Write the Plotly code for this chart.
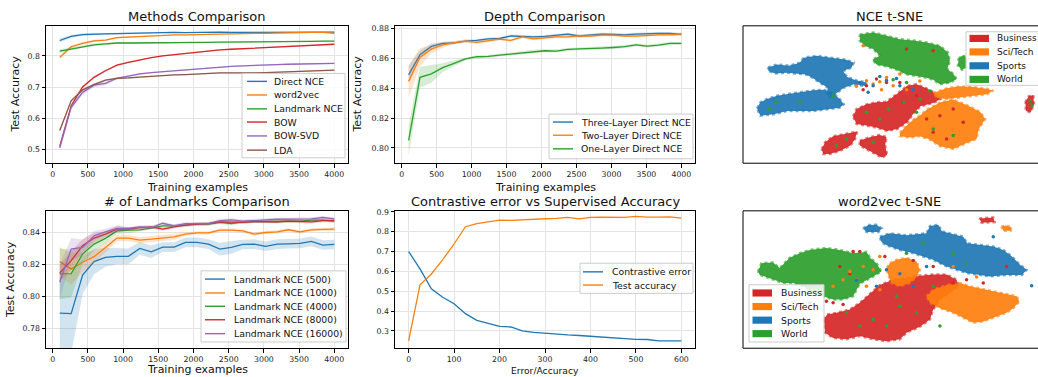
import plotly.graph_objects as go

W, H = 1038, 377
FONT = "DejaVu Sans"
C_BLUE, C_ORANGE, C_GREEN, C_RED, C_PURPLE, C_BROWN = "#1f77b4", "#ff7f0e", "#2ca02c", "#d62728", "#9467bd", "#8c564b"

# ---------------- data ----------------
train_x = [100, 262.5, 425, 587.5, 750, 912.5, 1075, 1237.5, 1400, 1562.5, 1725, 1887.5, 2050,
           2212.5, 2375, 2537.5, 2700, 2862.5, 3025, 3187.5, 3350, 3512.5, 3675, 3837.5, 4000]

# Methods Comparison
m_direct = [0.849, 0.862, 0.868, 0.870, 0.870, 0.871, 0.872, 0.873, 0.873, 0.875, 0.875, 0.874, 0.875,
            0.875, 0.876, 0.875, 0.875, 0.876, 0.876, 0.876, 0.876, 0.876, 0.876, 0.876, 0.876]
m_word2vec = [0.795, 0.829, 0.840, 0.848, 0.850, 0.858, 0.860, 0.862, 0.864, 0.865, 0.867, 0.867, 0.868,
              0.869, 0.871, 0.871, 0.871, 0.872, 0.872, 0.872, 0.873, 0.874, 0.875, 0.875, 0.872]
m_landmark = [0.815, 0.822, 0.830, 0.835, 0.838, 0.841, 0.841, 0.841, 0.842, 0.842, 0.842, 0.843, 0.843,
              0.843, 0.844, 0.844, 0.845, 0.845, 0.845, 0.845, 0.846, 0.846, 0.846, 0.847, 0.847]
m_bow = [0.510, 0.640, 0.700, 0.731, 0.752, 0.770, 0.779, 0.787, 0.794, 0.800, 0.804, 0.808, 0.812,
         0.816, 0.819, 0.821, 0.823, 0.825, 0.827, 0.829, 0.831, 0.832, 0.834, 0.835, 0.837]
m_bowsvd = [0.505, 0.635, 0.683, 0.706, 0.712, 0.728, 0.735, 0.742, 0.746, 0.749, 0.752, 0.756, 0.759,
            0.762, 0.765, 0.766, 0.768, 0.770, 0.771, 0.772, 0.773, 0.774, 0.774, 0.775, 0.776]
m_lda = [0.561, 0.656, 0.691, 0.708, 0.722, 0.728, 0.729, 0.732, 0.735, 0.736, 0.739, 0.740, 0.742,
         0.744, 0.745, 0.745, 0.744, 0.745, 0.746, 0.747, 0.748, 0.749, 0.750, 0.751, 0.754]
m_spread = [0.006, 0.005, 0.004, 0.004, 0.003, 0.003, 0.003, 0.002, 0.002, 0.002, 0.002, 0.002, 0.002,
            0.002, 0.002, 0.002, 0.002, 0.002, 0.002, 0.002, 0.002, 0.002, 0.002, 0.002, 0.002]
m_svd_spread = [0.012, 0.008, 0.008, 0.007, 0.006, 0.004, 0.003, 0.003, 0.002, 0.002, 0.002, 0.002, 0.002,
                0.002, 0.002, 0.002, 0.002, 0.002, 0.002, 0.002, 0.002, 0.002, 0.002, 0.002, 0.002]

# Depth Comparison
d_three = [0.8490, 0.8624, 0.8680, 0.8700, 0.8704, 0.8716, 0.8720, 0.8730, 0.8733, 0.8750, 0.8747, 0.8744, 0.8747,
           0.8753, 0.8762, 0.8750, 0.8756, 0.8762, 0.8760, 0.8758, 0.8762, 0.8767, 0.8767, 0.8767, 0.8760]
d_two = [0.8447, 0.8607, 0.8662, 0.8691, 0.8704, 0.8716, 0.8707, 0.8720, 0.8729, 0.8720, 0.8744, 0.8731, 0.8738,
         0.8744, 0.8744, 0.8750, 0.8750, 0.8756, 0.8756, 0.8750, 0.8749, 0.8756, 0.8758, 0.8758, 0.8762]
d_one = [0.8051, 0.8473, 0.8496, 0.8538, 0.8567, 0.8596, 0.8611, 0.8613, 0.8622, 0.8629, 0.8636, 0.8647, 0.8651,
         0.8649, 0.8660, 0.8664, 0.8669, 0.8669, 0.8673, 0.8678, 0.8691, 0.8682, 0.8689, 0.8700, 0.8700]
d_three_spread = [0.006, 0.003, 0.002, 0.001, 0.001, 0.001, 0.001, 0.001, 0.001, 0.001, 0.001, 0.001, 0.001,
                  0.001, 0.001, 0.001, 0.001, 0.001, 0.001, 0.001, 0.001, 0.001, 0.001, 0.001, 0.001]
d_two_spread = [0.011, 0.006, 0.003, 0.002, 0.001, 0.001, 0.001, 0.001, 0.001, 0.001, 0.001, 0.001, 0.001,
                0.001, 0.001, 0.001, 0.001, 0.001, 0.001, 0.001, 0.001, 0.001, 0.001, 0.001, 0.001]
d_one_spread = [0.010, 0.007, 0.006, 0.003, 0.002, 0.001, 0.001, 0.001, 0.001, 0.001, 0.001, 0.001, 0.001,
                0.001, 0.001, 0.001, 0.001, 0.001, 0.001, 0.001, 0.001, 0.001, 0.001, 0.001, 0.001]

# # of Landmarks Comparison
l_500 = [0.7894, 0.7890, 0.8133, 0.8217, 0.8244, 0.8250, 0.8250, 0.8300, 0.8279, 0.8308, 0.8308, 0.8338, 0.8338,
         0.8327, 0.8296, 0.8306, 0.8325, 0.8327, 0.8313, 0.8327, 0.8329, 0.8331, 0.8344, 0.8321, 0.8325]
l_1000 = [0.8217, 0.8171, 0.8213, 0.8248, 0.8306, 0.8365, 0.8365, 0.8352, 0.8358, 0.8365, 0.8373, 0.8390, 0.8398,
          0.8398, 0.8415, 0.8415, 0.8410, 0.8390, 0.8400, 0.8404, 0.8417, 0.8404, 0.8417, 0.8419, 0.8421]
l_4000 = [0.8140, 0.8142, 0.8265, 0.8327, 0.8363, 0.8410, 0.8415, 0.8417, 0.8427, 0.8442, 0.8442, 0.8448, 0.8452,
          0.8452, 0.8463, 0.8456, 0.8467, 0.8469, 0.8467, 0.8469, 0.8471, 0.8471, 0.8477, 0.8477, 0.8471]
l_8000 = [0.8146, 0.8223, 0.8317, 0.8365, 0.8390, 0.8421, 0.8421, 0.8431, 0.8435, 0.8421, 0.8435, 0.8446, 0.8452,
          0.8456, 0.8467, 0.8467, 0.8463, 0.8469, 0.8467, 0.8467, 0.8471, 0.8467, 0.8467, 0.8475, 0.8475]
l_16000 = [0.8088, 0.8296, 0.8306, 0.8379, 0.8404, 0.8425, 0.8425, 0.8435, 0.8431, 0.8458, 0.8442, 0.8456, 0.8456,
           0.8456, 0.8475, 0.8479, 0.8471, 0.8477, 0.8479, 0.8483, 0.8485, 0.8485, 0.8485, 0.8494, 0.8485]
l_500_spread = [0.023, 0.025, 0.012, 0.008, 0.006, 0.005, 0.005, 0.004, 0.004, 0.003, 0.003, 0.003, 0.003,
                0.003, 0.004, 0.004, 0.003, 0.003, 0.003, 0.003, 0.003, 0.003, 0.003, 0.003, 0.003]
l_1000_spread = [0.009, 0.010, 0.006, 0.004, 0.003, 0.002, 0.002, 0.002, 0.002, 0.002, 0.002, 0.001, 0.001,
                 0.001, 0.001, 0.001, 0.001, 0.001, 0.001, 0.001, 0.001, 0.001, 0.001, 0.001, 0.001]
l_4000_spread = [0.016, 0.015, 0.006, 0.004, 0.003, 0.002, 0.002, 0.001, 0.001, 0.001, 0.001, 0.001, 0.001,
                 0.001, 0.001, 0.001, 0.001, 0.001, 0.001, 0.001, 0.001, 0.001, 0.001, 0.001, 0.001]
l_8000_spread = [0.005, 0.006, 0.004, 0.003, 0.002, 0.002, 0.001, 0.001, 0.001, 0.001, 0.001, 0.001, 0.001,
                 0.001, 0.001, 0.001, 0.001, 0.001, 0.001, 0.001, 0.001, 0.001, 0.001, 0.001, 0.001]
l_16000_spread = [0.011, 0.007, 0.005, 0.003, 0.002, 0.002, 0.001, 0.001, 0.001, 0.001, 0.001, 0.001, 0.001,
                  0.001, 0.001, 0.001, 0.001, 0.001, 0.001, 0.001, 0.001, 0.001, 0.001, 0.001, 0.001]

# Contrastive error vs Supervised Accuracy
c_x = [0, 25, 50, 75, 100, 125, 150, 175, 200, 225, 250, 275, 300, 325, 350, 375, 400, 425, 450, 475,
       500, 525, 550, 575, 600]
c_error = [0.700, 0.613, 0.512, 0.470, 0.437, 0.387, 0.353, 0.337, 0.323, 0.320, 0.300, 0.293, 0.288, 0.283,
           0.280, 0.277, 0.273, 0.268, 0.265, 0.262, 0.258, 0.257, 0.250, 0.250, 0.250]
c_acc = [0.250, 0.532, 0.587, 0.659, 0.738, 0.825, 0.841, 0.850, 0.858, 0.857, 0.860, 0.865, 0.865, 0.867,
         0.872, 0.865, 0.872, 0.873, 0.873, 0.872, 0.877, 0.873, 0.873, 0.875, 0.868]

# t-SNE classes
classes = ["Business", "Sci/Tech", "Sports", "World"]
class_colors = [C_RED, C_ORANGE, C_BLUE, C_GREEN]

# NCE t-SNE: cluster outlines and stray points (embedding coords, y downward)
nce_blobs = {
    "World": [
        [(480, 96), (520, 90), (560, 100), (600, 110), (640, 114), (680, 120), (720, 130), (744, 150), (750, 175),
         (742, 200), (760, 214), (770, 230), (750, 241), (720, 246), (700, 232), (680, 226), (650, 221), (620, 216),
         (590, 202), (560, 192), (530, 186), (518, 172), (540, 160), (520, 140), (494, 130), (480, 115)],
        [(776, 168), (790, 158), (802, 170), (800, 196), (786, 202), (774, 190)],
    ],
    "Sports": [
        [(205, 195), (232, 186), (268, 190), (300, 181), (312, 166), (350, 160), (400, 167), (440, 172), (462, 181),
         (455, 196), (430, 206), (442, 224), (470, 234), (500, 240), (496, 251), (462, 246), (432, 256), (412, 270),
         (392, 286), (380, 276), (384, 256), (360, 241), (338, 226), (318, 216), (294, 213), (262, 211), (226, 213),
         (206, 206)],
        [(172, 318), (182, 300), (202, 290), (232, 280), (270, 274), (310, 268), (342, 264), (372, 262), (402, 274),
         (420, 290), (432, 306), (420, 316), (382, 321), (342, 326), (302, 326), (262, 326), (222, 336), (182, 340)],
    ],
    "Business": [
        [(460, 342), (470, 320), (500, 306), (530, 300), (560, 298), (580, 284), (600, 268), (622, 250), (650, 246),
         (680, 258), (702, 270), (722, 290), (700, 302), (662, 312), (642, 332), (622, 360), (592, 380), (562, 386),
         (530, 376), (500, 370), (470, 365)],
        [(366, 440), (376, 420), (400, 402), (440, 394), (472, 388), (466, 410), (452, 430), (420, 446), (390, 455),
         (370, 455)],
        [(480, 415), (510, 405), (540, 398), (560, 404), (556, 430), (562, 458), (546, 466), (520, 452), (500, 442),
         (480, 430)],
        [(976, 300), (986, 282), (1000, 278), (1002, 306), (992, 330), (978, 326)],
    ],
    "Sci/Tech": [
        [(600, 392), (618, 372), (640, 352), (660, 340), (680, 322), (700, 312), (722, 300), (760, 292), (800, 308),
         (840, 328), (856, 350), (836, 380), (830, 410), (800, 422), (760, 440), (720, 432), (690, 412), (660, 402),
         (630, 406), (600, 402)],
        [(700, 272), (740, 258), (780, 252), (820, 254), (860, 259), (880, 265), (860, 276), (820, 281), (780, 286),
         (740, 290), (710, 286)],
    ],
}
nce_strays = {
    "Business": [(680, 350), (720, 340), (760, 320), (790, 360), (700, 390), (740, 410), (650, 280), (600, 240),
                 (560, 240), (500, 250), (620, 140), (700, 145), (530, 230), (490, 262), (610, 300)],
    "Sci/Tech": [(500, 235), (520, 245), (540, 238), (580, 250), (620, 262), (660, 236), (600, 215), (560, 225),
                 (490, 130), (545, 262), (470, 252)],
    "Sports": [(480, 240), (520, 250), (560, 234), (600, 250), (640, 262), (505, 270), (590, 228), (540, 222)],
    "World": [(500, 330), (540, 350), (566, 320), (612, 300), (660, 290), (690, 266), (620, 240), (580, 232),
              (700, 380), (760, 400), (520, 420), (410, 430), (440, 410), (300, 300), (230, 300), (210, 320),
              (400, 280), (650, 330), (996, 310), (990, 296)],
}

# word2vec t-SNE
w2v_blobs = {
    "World": [
        [(175, 255), (185, 230), (220, 228), (240, 245), (270, 214), (300, 200), (330, 190), (380, 184), (420, 190),
         (460, 200), (500, 196), (512, 215), (530, 230), (545, 255), (520, 270), (480, 292), (460, 330), (430, 340),
         (400, 340), (370, 330), (340, 320), (310, 300), (280, 290), (250, 290), (220, 280), (180, 265)],
    ],
    "Business": [
        [(838, 95), (880, 92), (884, 106), (845, 108)],
        [(372, 400), (382, 385), (410, 380), (450, 370), (480, 350), (510, 322), (540, 296), (580, 280), (640, 270),
         (700, 264), (740, 264), (770, 280), (776, 300), (750, 320), (720, 340), (700, 370), (690, 400), (660, 422),
         (620, 440), (600, 460), (560, 466), (520, 460), (480, 450), (440, 460), (400, 456), (376, 440)],
    ],
    "Sci/Tech": [
        [(680, 330), (700, 310), (740, 296), (780, 290), (810, 300), (860, 310), (900, 320), (950, 330), (958, 346),
         (940, 366), (920, 380), (880, 396), (850, 406), (820, 410), (790, 396), (760, 380), (720, 366), (690, 350)],
        [(570, 230), (590, 220), (620, 214), (650, 225), (660, 250), (650, 272), (630, 290), (600, 300), (575, 290),
         (565, 265), (560, 245)],
        [(904, 120), (918, 116), (935, 122), (932, 132), (910, 132)],
    ],
    "Sports": [
        [(540, 150), (570, 140), (620, 146), (680, 140), (690, 118), (715, 114), (726, 134), (750, 140), (790, 150),
         (802, 170), (840, 175), (880, 180), (910, 190), (936, 210), (960, 235), (980, 250), (966, 266), (920, 266),
         (870, 270), (840, 266), (800, 260), (770, 250), (740, 240), (720, 230), (700, 220), (670, 210), (640, 200),
         (600, 190), (560, 176), (545, 166)],
        [(490, 125), (505, 115), (530, 114), (546, 125), (536, 136), (500, 136)],
    ],
}
w2v_strays = {
    "Business": [(460, 195), (480, 195), (420, 240), (450, 262), (380, 345), (400, 350), (430, 355), (555, 210),
                 (640, 222), (700, 240), (760, 290), (800, 280), (850, 290), (920, 240)],
    "Sci/Tech": [(450, 255), (470, 280), (520, 250), (540, 310), (500, 300), (400, 300), (430, 280), (760, 240),
                 (830, 272), (540, 210), (490, 240)],
    "Sports": [(470, 282), (530, 300), (600, 262), (640, 300), (680, 240), (995, 298), (880, 150), (560, 250)],
    "World": [(600, 360), (650, 380), (700, 300), (520, 400), (560, 420), (620, 200), (670, 170), (760, 200),
              (800, 230), (480, 420), (440, 380), (330, 350), (720, 420), (590, 330)],
}

# ---------------- layout helpers ----------------
def fx(px):
    return px / W


def fy(py):
    return 1 - py / H


COL_X = [(46, 348), (395, 695), (743, 1038)]
ROW_Y = [(23, 161.5), (209.5, 348)]

fig = go.Figure()


def add_band(xs, ys, spread, color_rgba, ax):
    lo = [y - s for y, s in zip(ys, spread)]
    hi = [y + s for y, s in zip(ys, spread)]
    fig.add_trace(go.Scatter(x=xs, y=lo, mode="lines", line=dict(width=0), showlegend=False,
                             hoverinfo="skip", xaxis="x" + ax, yaxis="y" + ax))
    fig.add_trace(go.Scatter(x=xs, y=hi, mode="lines", line=dict(width=0), fill="tonexty",
                             fillcolor=color_rgba, showlegend=False, hoverinfo="skip",
                             xaxis="x" + ax, yaxis="y" + ax))


def add_line(xs, ys, color, name, ax):
    fig.add_trace(go.Scatter(x=xs, y=ys, mode="lines", line=dict(color=color, width=1.3), name=name,
                             showlegend=False, xaxis="x" + ax, yaxis="y" + ax))


def rgba(hexc, a):
    h = hexc.lstrip("#")
    return "rgba(%d,%d,%d,%.2f)" % (int(h[0:2], 16), int(h[2:4], 16), int(h[4:6], 16), a)


# Panel 1
p1 = [(m_direct, m_spread, C_BLUE, "Direct NCE"), (m_word2vec, m_spread, C_ORANGE, "word2vec"),
      (m_landmark, m_spread, C_GREEN, "Landmark NCE"), (m_bow, m_spread, C_RED, "BOW"),
      (m_bowsvd, m_svd_spread, C_PURPLE, "BOW-SVD"), (m_lda, m_spread, C_BROWN, "LDA")]
for ys, sp, c, n in p1:
    add_band(train_x, ys, sp, rgba(c, 0.2), "")
    add_line(train_x, ys, c, n, "")

# Panel 2
p2 = [(d_three, d_three_spread, C_BLUE, "Three-Layer Direct NCE"),
      (d_two, d_two_spread, C_ORANGE, "Two-Layer Direct NCE"),
      (d_one, d_one_spread, C_GREEN, "One-Layer Direct NCE")]
for ys, sp, c, n in p2:
    add_band(train_x, ys, sp, rgba(c, 0.2), "2")
    add_line(train_x, ys, c, n, "2")

# Panel 4
p4 = [(l_500, l_500_spread, C_BLUE, "Landmark NCE (500)"), (l_1000, l_1000_spread, C_ORANGE, "Landmark NCE (1000)"),
      (l_4000, l_4000_spread, C_GREEN, "Landmark NCE (4000)"), (l_8000, l_8000_spread, C_RED, "Landmark NCE (8000)"),
      (l_16000, l_16000_spread, C_PURPLE, "Landmark NCE (16000)")]
for ys, sp, c, n in p4:
    add_band(train_x, ys, sp, rgba(c, 0.2), "4")
    add_line(train_x, ys, c, n, "4")

# Panel 5
add_line(c_x, c_error, C_BLUE, "Contrastive error", "5")
add_line(c_x, c_acc, C_ORANGE, "Test accuracy", "5")


# t-SNE panels
def add_tsne(blobs, strays, ax):
    for cls in ["World", "Business", "Sci/Tech", "Sports"]:
        col = class_colors[classes.index(cls)]
        for poly in blobs.get(cls, []):
            xs = [p[0] for p in poly] + [poly[0][0]]
            ys = [p[1] for p in poly] + [poly[0][1]]
            fig.add_trace(go.Scatter(x=xs, y=ys, mode="lines", fill="toself", fillcolor=rgba(col, 0.92),
                                     line=dict(color=rgba(col, 0.6), width=2.5, dash="dot"), showlegend=False,
                                     hoverinfo="skip", xaxis="x" + ax, yaxis="y" + ax))
    for cls in ["Business", "Sci/Tech", "Sports", "World"]:
        col = class_colors[classes.index(cls)]
        pts = strays.get(cls, [])
        fig.add_trace(go.Scatter(x=[p[0] for p in pts], y=[p[1] for p in pts], mode="markers",
                                 marker=dict(color=col, size=3.5, line=dict(width=0)), showlegend=False,
                                 hoverinfo="skip", xaxis="x" + ax, yaxis="y" + ax))


add_tsne(nce_blobs, nce_strays, "3")
add_tsne(w2v_blobs, w2v_strays, "6")

# ---------------- axes ----------------
tickfont = dict(family=FONT, size=7.8, color="#222")
base = dict(showline=True, linecolor="black", linewidth=1, mirror=True, ticks="outside", ticklen=3.5,
            tickwidth=1, tickcolor="black", showgrid=True, gridcolor="#e3e3e3", gridwidth=1,
            zeroline=False, tickfont=tickfont)
xtrain = dict(base, range=[-95, 4195], tickvals=[0, 500, 1000, 1500, 2000, 2500, 3000, 3500, 4000])


def dom_x(c):
    return [fx(COL_X[c][0]), min(1.0, fx(COL_X[c][1]))]


def dom_y(r):
    return [fy(ROW_Y[r][1]), fy(ROW_Y[r][0])]


tsne_x = dict(showline=False, showgrid=False, zeroline=False, showticklabels=False, ticks="")

fig.update_layout(
    width=W, height=H, autosize=False, margin=dict(l=0, r=0, t=0, b=0),
    paper_bgcolor="white", plot_bgcolor="white", showlegend=False,
    xaxis=dict(xtrain, domain=dom_x(0), anchor="y"),
    yaxis=dict(base, domain=dom_y(0), anchor="x", range=[0.456, 0.896], tickvals=[0.5, 0.6, 0.7, 0.8],
               tickformat=".1f"),
    xaxis2=dict(xtrain, domain=dom_x(1), anchor="y2"),
    yaxis2=dict(base, domain=dom_y(0), anchor="x2", range=[0.7898, 0.8818],
                tickvals=[0.80, 0.82, 0.84, 0.86, 0.88], tickformat=".2f"),
    xaxis3=dict(tsne_x, domain=dom_x(2), anchor="y3", range=[130, 1014]),
    yaxis3=dict(tsne_x, domain=dom_y(0), anchor="x3", range=[483, 70]),
    xaxis4=dict(xtrain, domain=dom_x(0), anchor="y4"),
    yaxis4=dict(base, domain=dom_y(1), anchor="x4", range=[0.7673, 0.8536],
                tickvals=[0.78, 0.80, 0.82, 0.84], tickformat=".2f"),
    xaxis5=dict(base, domain=dom_x(1), anchor="y5", range=[-30, 630], tickvals=[0, 100, 200, 300, 400, 500, 600]),
    yaxis5=dict(base, domain=dom_y(1), anchor="x5", range=[0.213, 0.905],
                tickvals=[0.3, 0.4, 0.5, 0.6, 0.7, 0.8, 0.9], tickformat=".1f"),
    xaxis6=dict(tsne_x, domain=dom_x(2), anchor="y6", range=[130, 1014]),
    yaxis6=dict(tsne_x, domain=dom_y(1), anchor="x6", range=[487, 72]),
)

shapes = []
annotations = []

# t-SNE frames (left, top, bottom; right edge is outside the picture)
for r in range(2):
    x0 = fx(COL_X[2][0])
    y0, y1 = dom_y(r)
    for (a, b, c, d) in [(x0, y0, x0, y1), (x0, y1, 1.0, y1), (x0, y0, 1.0, y0)]:
        shapes.append(dict(type="line", xref="paper", yref="paper", x0=a, y0=b, x1=c, y1=d,
                           line=dict(color="black", width=1)))

# titles
titles = [("Methods Comparison", 0, 14), ("Depth Comparison", 1, 14), ("NCE t-SNE", 2, 14),
          ("# of Landmarks Comparison", 0, 200), ("Contrastive error vs Supervised Accuracy", 1, 200),
          ("word2vec t-SNE", 2, 200)]
for t, c, ypx in titles:
    xc = (COL_X[c][0] + (COL_X[c][1] if c < 2 else 1035)) / 2
    annotations.append(dict(text=t, x=fx(xc), y=fy(ypx), xref="paper", yref="paper", showarrow=False,
                            xanchor="center", yanchor="middle", font=dict(family=FONT, size=13, color="#111")))

# axis labels
lab_font = dict(family=FONT, size=11, color="#111")
for c, ypx, t, fs in [(0, 186, "Training examples", 11), (1, 186, "Training examples", 11),
                      (0, 369, "Training examples", 11), (1, 370, "Error/Accuracy", 9.2)]:
    xc = (COL_X[c][0] + COL_X[c][1]) / 2
    annotations.append(dict(text=t, x=fx(xc), y=fy(ypx), xref="paper", yref="paper", showarrow=False,
                            xanchor="center", yanchor="middle", font=dict(family=FONT, size=fs, color="#111")))
for xpx, r in [(16, 0), (358, 0), (10.5, 1)]:
    yc = (ROW_Y[r][0] + ROW_Y[r][1]) / 2
    annotations.append(dict(text="Test Accuracy", x=fx(xpx), y=fy(yc), xref="paper", yref="paper",
                            showarrow=False, textangle=-90, xanchor="center", yanchor="middle", font=lab_font))


def legend_box(x0, y0, x1, y1):
    shapes.append(dict(type="rect", xref="paper", yref="paper", x0=fx(x0), x1=fx(x1), y0=fy(y1), y1=fy(y0),
                       fillcolor="rgba(255,255,255,0.85)", line=dict(color="#cccccc", width=1)))


def line_legend(box, rows, lx0, lx1, tx, fs=9.3):
    legend_box(*box)
    for ypx, col, lab in rows:
        shapes.append(dict(type="line", xref="paper", yref="paper", x0=fx(lx0), x1=fx(lx1), y0=fy(ypx),
                           y1=fy(ypx), line=dict(color=col, width=1.4)))
        annotations.append(dict(text=lab, x=fx(tx), y=fy(ypx), xref="paper", yref="paper", showarrow=False,
                                xanchor="left", yanchor="middle", font=dict(family=FONT, size=fs, color="#111")))


def patch_legend(box, rows, px0, px1, tx, fs=9.3):
    legend_box(*box)
    for ypx, col, lab in rows:
        shapes.append(dict(type="rect", xref="paper", yref="paper", x0=fx(px0), x1=fx(px1), y0=fy(ypx + 3.6),
                           y1=fy(ypx - 3.6), fillcolor=col, line=dict(width=0)))
        annotations.append(dict(text=lab, x=fx(tx), y=fy(ypx), xref="paper", yref="paper", showarrow=False,
                                xanchor="left", yanchor="middle", font=dict(family=FONT, size=fs, color="#111")))


line_legend((242, 71, 345, 156), [(79, C_BLUE, "Direct NCE"), (92.7, C_ORANGE, "word2vec"),
                                  (106.7, C_GREEN, "Landmark NCE"), (120, C_RED, "BOW"),
                                  (134, C_PURPLE, "BOW-SVD"), (148.3, C_BROWN, "LDA")], 247, 267, 272)
line_legend((549, 112, 693, 157), [(120, C_BLUE, "Three-Layer Direct NCE"), (133.3, C_ORANGE, "Two-Layer Direct NCE"),
                                   (147, C_GREEN, "One-Layer Direct NCE")], 553, 573, 579)
line_legend((201, 270, 346, 341.7), [(278.3, C_BLUE, "Landmark NCE (500)"), (292.3, C_ORANGE, "Landmark NCE (1000)"),
                                     (305.7, C_GREEN, "Landmark NCE (4000)"), (319.3, C_RED, "Landmark NCE (8000)"),
                                     (333.3, C_PURPLE, "Landmark NCE (16000)")], 205, 225, 232)
line_legend((580, 262.3, 693, 292.7), [(271, C_BLUE, "Contrastive error"), (284.3, C_ORANGE, "Test accuracy")],
            583, 603, 610)
patch_legend((966, 29, 1045, 83), [(35.7, C_RED, "Business"), (49.3, C_ORANGE, "Sci/Tech"),
                                   (63.3, C_BLUE, "Sports"), (77, C_GREEN, "World")], 969.5, 989, 994.5, fs=9.0)
patch_legend((749, 284, 824, 341.7), [(292.3, C_RED, "Business"), (306, C_ORANGE, "Sci/Tech"),
                                      (319.7, C_BLUE, "Sports"), (333.3, C_GREEN, "World")], 752.5, 772, 779)

fig.update_layout(shapes=shapes, annotations=annotations)
fig.write_html("out.html", config={"displayModeBar": False},
               post_script="document.body.style.margin='0px';document.body.style.overflow='hidden';")
